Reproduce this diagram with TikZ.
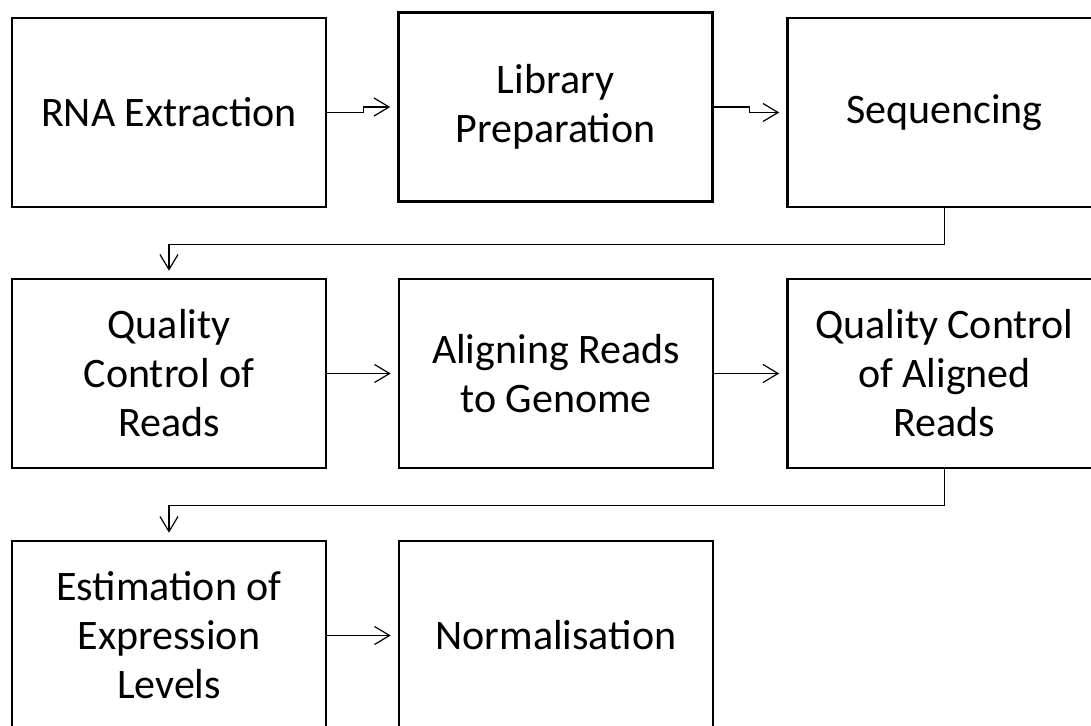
\documentclass[tikz,border=0pt]{standalone}
\usepackage{fontspec}
\setmainfont{Carlito}
\usetikzlibrary{arrows.meta}

\begin{document}
\begin{tikzpicture}[x=1pt, y=-1pt,
    box/.style={draw, line width=2.6pt, minimum width=314pt, minimum height=189pt, inner sep=0pt, align=center, font=\fontsize{42}{49}\selectfont},
    arr/.style={line width=1.2pt, -{Straight Barb[length=15pt, width=18pt, line width=1.2pt]}, shorten >=7pt}]
    \clip (0,0) rectangle (1091,725);

    % First row
    \node[box] (rna) at (169,112.5) {RNA Extraction};
    \node[box] (lib) at (555.5,107) {Library\\Preparation};
    \node[box] (seq) at (944.5,112.5) {Sequencing};

    % Second row
    \node[box] (qcr) at (169,373.5) {Quality\\Control of\\Reads};
    \node[box] (aln) at (556,373.5) {Aligning Reads\\to Genome};
    \node[box] (qca) at (944.5,373.5) {Quality Control\\of Aligned\\Reads};

    % Third row
    \node[box] (est) at (169,635.5) {Estimation of\\Expression\\Levels};
    \node[box] (nrm) at (556,635.5) {Normalisation};

    % Arrows
    \draw[arr] (rna.east) -- ++(36,0) |- (lib.west);
    \draw[arr] (lib.east) -- ++(36,0) |- (seq.west);
    \draw[arr] (seq.south) -- ++(0,36) -| (qcr.north);
    \draw[arr] (qcr) -- (aln);
    \draw[arr] (aln) -- (qca);
    \draw[arr] (qca.south) -- ++(0,36) -| (est.north);
    \draw[arr] (est) -- (nrm);
\end{tikzpicture}
\end{document}
